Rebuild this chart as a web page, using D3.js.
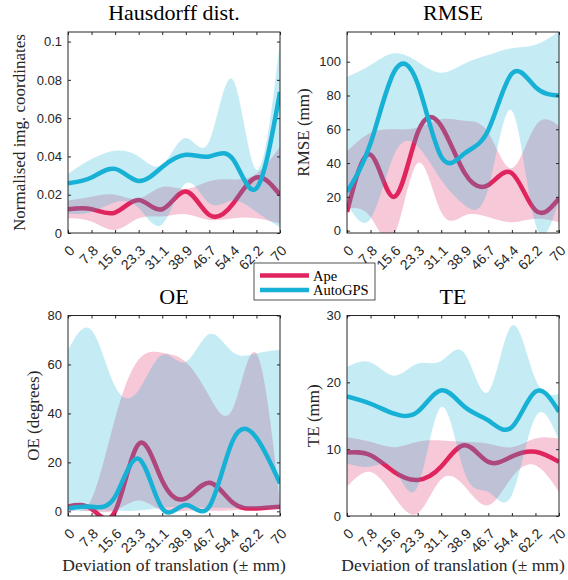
<!DOCTYPE html>
<html><head><meta charset="utf-8">
<script src="https://cdn.jsdelivr.net/npm/d3@7"></script>
<style>body{margin:0;background:#fff}svg{display:block}</style>
</head><body>
<svg id="c" width="568" height="580"></svg>
<script>
// ---- data ----
const xLabels = ["0","7.8","15.6","23.3","31.1","38.9","46.7","54.4","62.2","70"];
const seriesNames = ["Ape","AutoGPS"];

const hdTicks = [0,0.02,0.04,0.06,0.08,0.1];
const hdApe    = [0.0124,0.0125,0.0107,0.0172,0.0124,0.0217,0.0094,0.0152,0.0290,0.0199];
const hdApeLo  = [0.0077,0.0060,0.0016,0.0077,0.0086,0.0098,0.0068,0.0077,0.0077,0.0050];
const hdApeHi  = [0.0170,0.0190,0.0200,0.0180,0.0240,0.0230,0.0270,0.0280,0.0310,0.0450];
const hdAuto   = [0.0260,0.0290,0.0335,0.0272,0.0345,0.0409,0.0400,0.0386,0.0234,0.0737];
const hdAutoLo = [0.0100,0.0110,0.0160,0.0130,0.0045,0.0260,0.0155,0.0170,0.0110,0.0030];
const hdAutoHi = [0.0310,0.0386,0.0430,0.0400,0.0356,0.0496,0.0480,0.0800,0.0330,0.1000];

const rmTicks = [0,20,40,60,80,100];
const rmApe    = [11,45,20,58,62,34,27,34,12,19];
const rmApeLo  = [13,8,-3,40,11,9,8,5,7,5];
const rmApeHi  = [47,58,60,61,66,65,58,37,62,62];
const rmAuto   = [23,51.7,94,87,43.8,45.8,59.6,93,85,80];
const rmAutoLo = [16,7,45,50,30,15,25,71,4,18];
const rmAutoHi = [91,98,105,100,93.5,99,104,108,110,118];

const oeTicks = [0,20,40,60,80];
const oeApe    = [2.0,1.0,0.0,27.5,12.5,5.3,11.7,3.5,1.2,1.9];
const oeApeLo  = [0,0,0.3,4.4,0.3,0.2,0.2,0.5,1,1];
const oeApeHi  = [1.5,5,38,62,64.8,61,47,42,64.5,3];
const oeAuto   = [1.2,1.9,6,21.5,1.2,2.6,2.0,29,30,11.4];
const oeAutoLo = [0.3,0.3,0.3,0.3,1.5,1.8,1.5,1.5,1.2,1];
const oeAutoHi = [66,74,51,49.5,64,61,72.4,65,64.5,66];

const teTicks = [0,10,20,30];
const teApe    = [9.5,9.1,6.6,5.4,7.4,10.6,8.1,8.9,9.6,8.1];
const teApeLo  = [4.4,6.6,2.9,0.4,5.5,4.4,1.6,5.8,7.6,3.6];
const teApeHi  = [11.8,11.1,10.3,11.1,11.3,11.1,10.8,10.3,11.6,11.6];
const teAuto   = [17.9,16.8,15.3,15.6,18.8,16.3,14.3,13.3,18.6,15.6];
const teAutoLo = [7.9,7.4,7,4.4,16.3,6.4,3.6,3.1,14.8,11.3];
const teAutoHi = [22.3,23,21,22.8,23.2,24.3,18.6,28.5,20.5,18.3];

// ---- styles / layout ----
const apeColor = "#e0245e", autoColor = "#17b1d6";
const axisColor = "#262626";
const serif = "'Liberation Serif','Times New Roman',serif";
const sans = "'Liberation Sans',Arial,Helvetica,sans-serif";

const panels = [
  {title:"Hausdorff dist.", ylabel:"Normalised img. coordinates", dom:[0,0.105], ticks:hdTicks,
   ape:hdApe, apeLo:hdApeLo, apeHi:hdApeHi, auto:hdAuto, autoLo:hdAutoLo, autoHi:hdAutoHi,
   x0:68, x1:280, y0:32, y1:233, ylx:19, xlabel:false},
  {title:"RMSE", ylabel:"RMSE (mm)", dom:[-1.4,117.6], ticks:rmTicks,
   ape:rmApe, apeLo:rmApeLo, apeHi:rmApeHi, auto:rmAuto, autoLo:rmAutoLo, autoHi:rmAutoHi,
   x0:347, x1:559, y0:32, y1:233, ylx:303.5, xlabel:false},
  {title:"OE", ylabel:"OE (degrees)", dom:[-1.9,80], ticks:oeTicks,
   ape:oeApe, apeLo:oeApeLo, apeHi:oeApeHi, auto:oeAuto, autoLo:oeAutoLo, autoHi:oeAutoHi,
   x0:68, x1:280, y0:315.5, y1:516, ylx:33, xlabel:true},
  {title:"TE", ylabel:"TE (mm)", dom:[0,30], ticks:teTicks,
   ape:teApe, apeLo:teApeLo, apeHi:teApeHi, auto:teAuto, autoLo:teAutoLo, autoHi:teAutoHi,
   x0:347, x1:559, y0:315.5, y1:516, ylx:313, xlabel:true}
];

const svg = d3.select("#c");
svg.append("rect").attr("width",568).attr("height",580).attr("fill","#fff");

panels.forEach((p,i)=>{
  const x = d3.scalePoint().domain(xLabels).range([p.x0,p.x1]);
  const y = d3.scaleLinear().domain(p.dom).range([p.y1,p.y0]);
  const cid = "clip"+i;
  svg.append("clipPath").attr("id",cid).append("rect")
    .attr("x",p.x0).attr("y",p.y0).attr("width",p.x1-p.x0).attr("height",p.y1-p.y0);
  const g = svg.append("g").attr("clip-path",`url(#${cid})`);
  const area = d3.area().x((d,j)=>x(xLabels[j])).y0(d=>y(d[0])).y1(d=>y(d[1])).curve(d3.curveNatural);
  const line = d3.line().x((d,j)=>x(xLabels[j])).y(d=>y(d)).curve(d3.curveNatural);

  g.append("path").datum(d3.zip(p.apeLo,p.apeHi)).attr("d",area).attr("fill",apeColor).attr("fill-opacity",0.25);
  g.append("path").datum(p.ape).attr("d",line).attr("fill","none").attr("stroke",apeColor).attr("stroke-width",4.5);
  g.append("path").datum(d3.zip(p.autoLo,p.autoHi)).attr("d",area).attr("fill",autoColor).attr("fill-opacity",0.25);
  g.append("path").datum(p.auto).attr("d",line).attr("fill","none").attr("stroke",autoColor).attr("stroke-width",4.5);

  const styleAxis = (sel, fs) => {
    sel.select(".domain").remove();
    sel.selectAll("line").attr("stroke",axisColor);
    sel.selectAll("text").attr("fill",axisColor).style("font-family",sans).style("font-size",fs);
  };
  // left
  svg.append("g").attr("transform",`translate(${p.x0},0)`)
    .call(d3.axisLeft(y).tickValues(p.ticks).tickSize(-3).tickPadding(6).tickFormat(d=>String(d)))
    .call(s=>styleAxis(s,"13px"));
  // right (mirror ticks)
  svg.append("g").attr("transform",`translate(${p.x1},0)`)
    .call(d3.axisRight(y).tickValues(p.ticks).tickSize(-3).tickFormat(""))
    .call(s=>styleAxis(s,"13px"));
  // bottom
  const bx = svg.append("g").attr("transform",`translate(0,${p.y1})`)
    .call(d3.axisBottom(x).tickSize(-3))
    .call(s=>styleAxis(s,"14px"));
  bx.selectAll("text").attr("y",0).attr("dy","0.35em")
    .attr("text-anchor","end").attr("transform","translate(3.5,15) rotate(-45)");
  // top
  svg.append("g").attr("transform",`translate(0,${p.y0})`)
    .call(d3.axisTop(x).tickSize(-3).tickFormat(""))
    .call(s=>styleAxis(s,"13px"));
  // frame
  svg.append("rect").attr("x",p.x0).attr("y",p.y0).attr("width",p.x1-p.x0).attr("height",p.y1-p.y0)
    .attr("fill","none").attr("stroke",axisColor).attr("stroke-width",1);

  const cx = (p.x0+p.x1)/2;
  svg.append("text").attr("x",cx).attr("y",p.y0-12).attr("text-anchor","middle")
    .style("font-family",serif).style("font-size","22px").attr("fill","#000").text(p.title);
  svg.append("text").attr("transform",`translate(${p.ylx},${(p.y0+p.y1)/2}) rotate(-90)`)
    .attr("text-anchor","middle").attr("dy","0.35em")
    .style("font-family",serif).style("font-size","17px").attr("fill",axisColor).text(p.ylabel);
  if (p.xlabel) {
    svg.append("text").attr("x",cx).attr("y",571).attr("text-anchor","middle")
      .style("font-family",serif).style("font-size","17.5px").attr("fill",axisColor)
      .text("Deviation of translation (\u00b1 mm)");
  }
});

// legend
const lg = svg.append("g");
lg.append("rect").attr("x",254).attr("y",263).attr("width",121).attr("height",37)
  .attr("fill","#fff").attr("stroke",axisColor).attr("stroke-width",0.8);
[apeColor, autoColor].forEach((c,k)=>{
  const ly = 275.5 + k*14.5;
  lg.append("line").attr("x1",260).attr("x2",309).attr("y1",ly).attr("y2",ly)
    .attr("stroke",c).attr("stroke-width",4.5);
  lg.append("text").attr("x",313).attr("y",ly).attr("dy","0.35em")
    .style("font-family",serif).style("font-size","14.5px").attr("fill","#000").text(seriesNames[k]);
});
</script>
</body></html>
